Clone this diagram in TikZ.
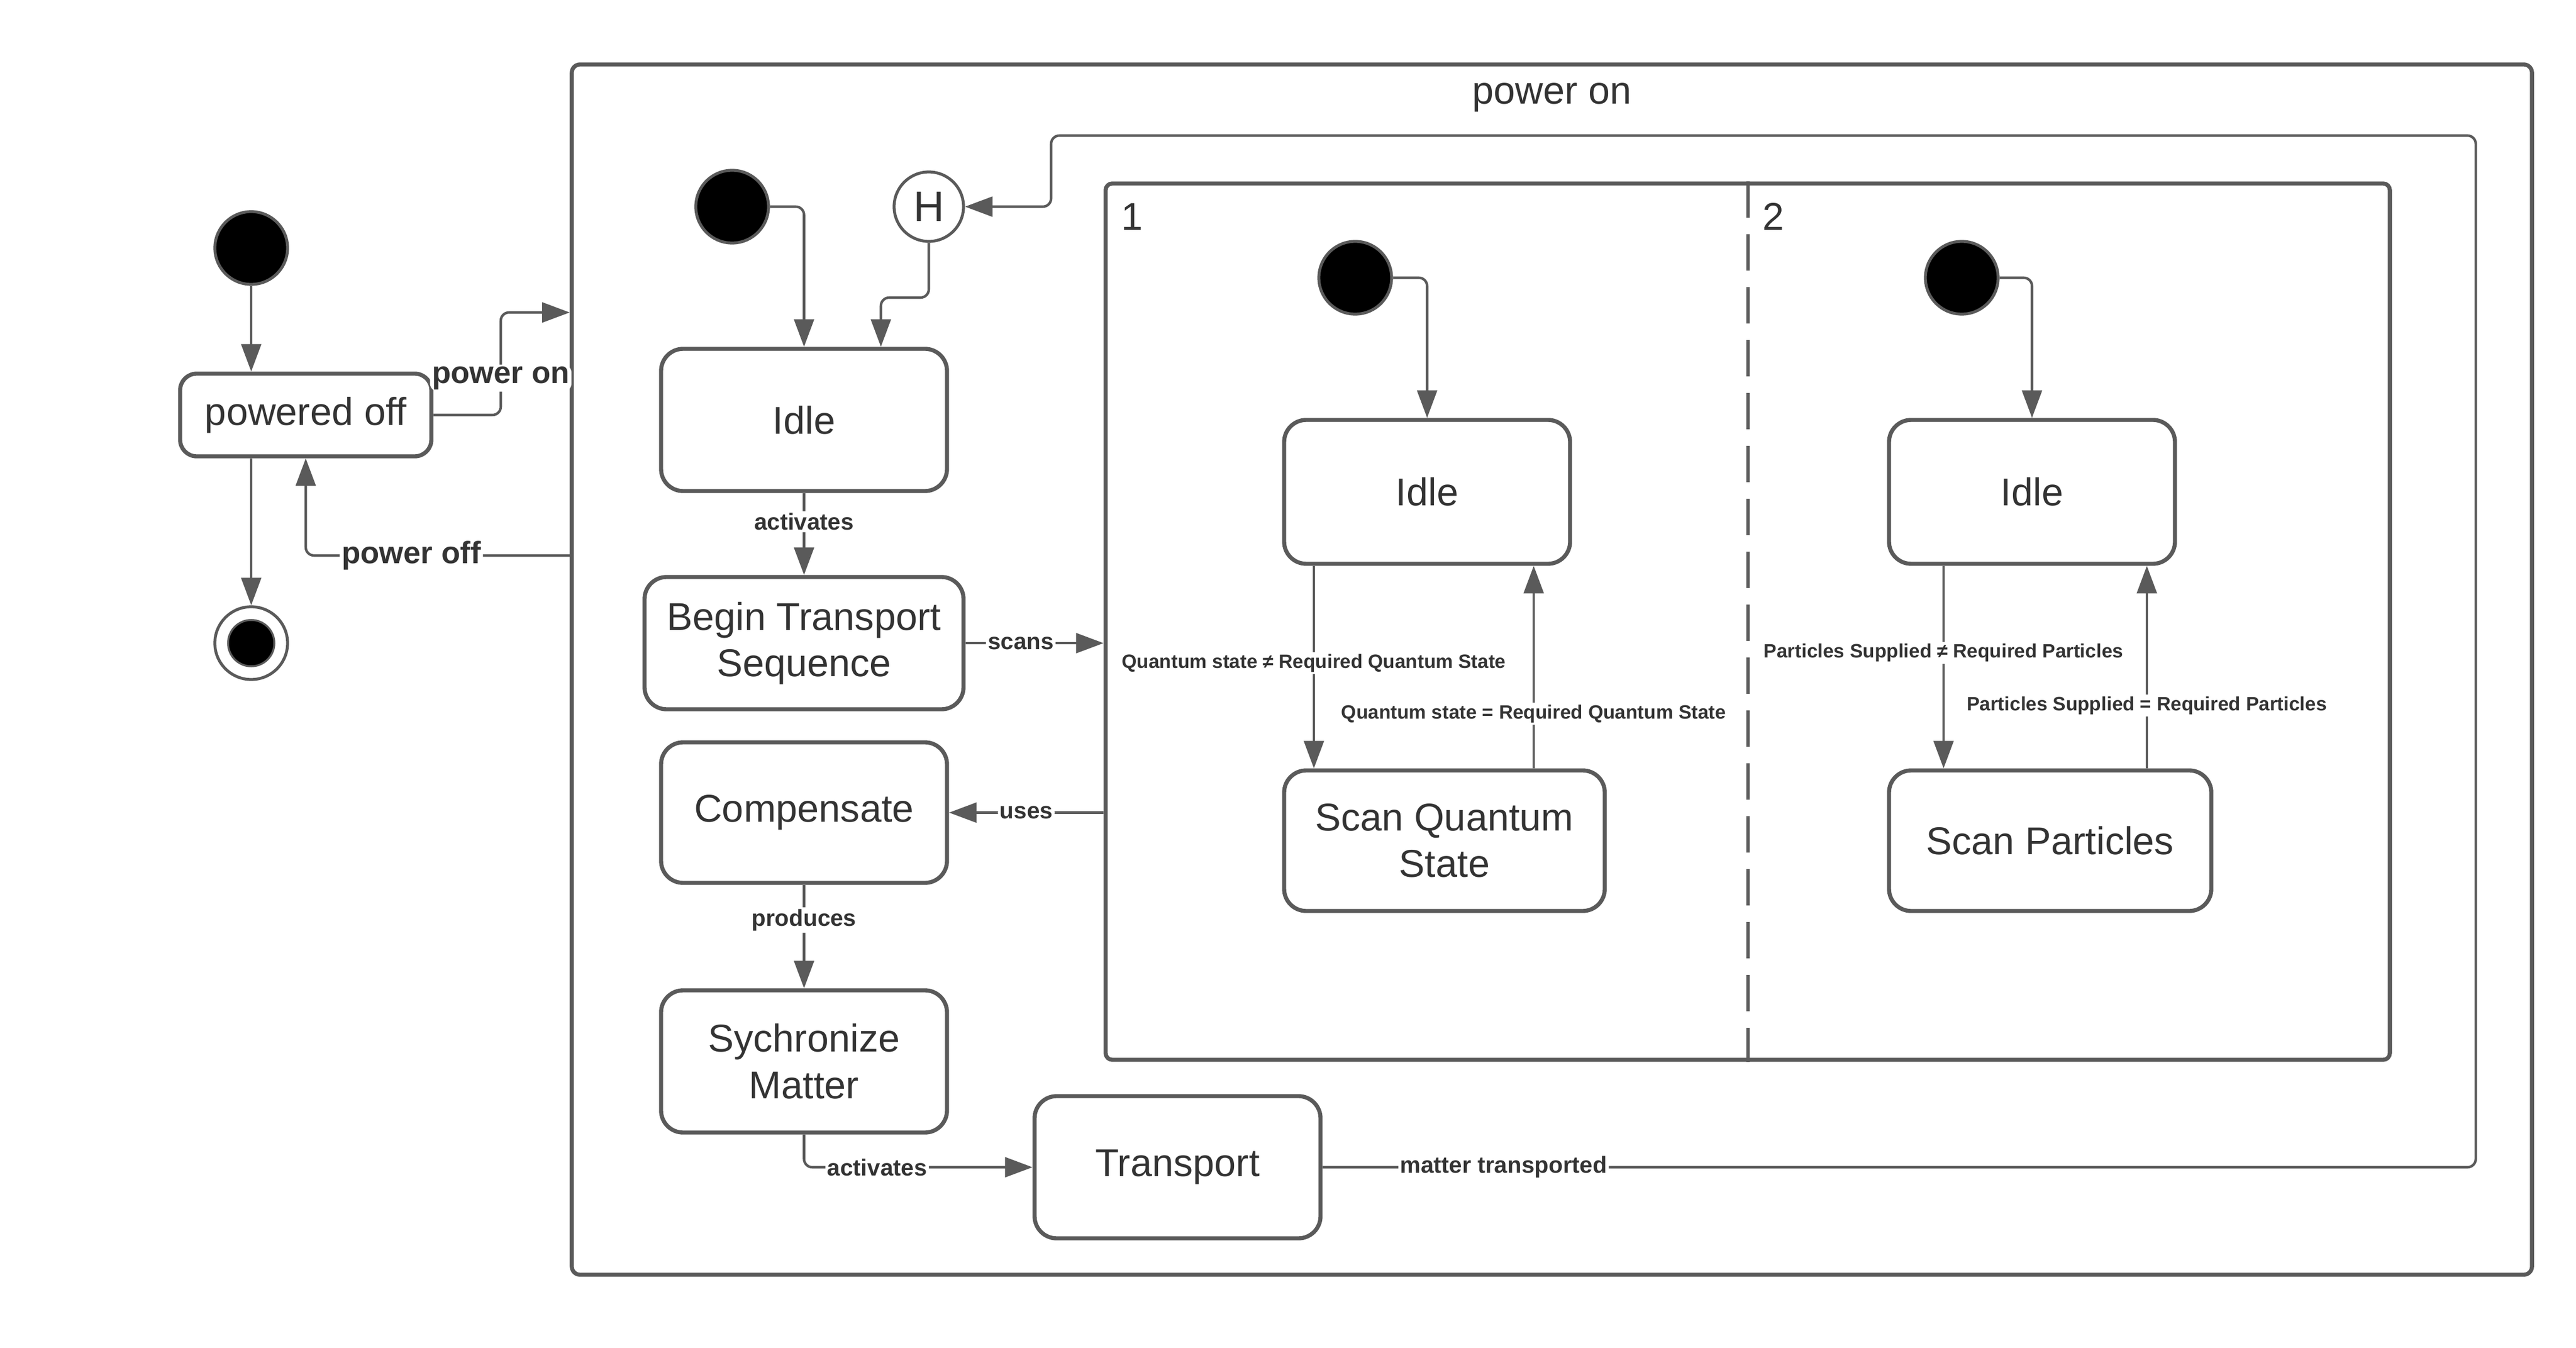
\documentclass[tikz,border=0pt]{standalone}
\usepackage{fontspec}
\setmainfont{Liberation Sans}
\usetikzlibrary{arrows.meta}
\definecolor{edgegray}{HTML}{5A5A5A}
\definecolor{ink}{HTML}{333333}
\begin{document}
\begin{tikzpicture}[x=0.03cm, y=-0.03cm,
	state/.style={draw=edgegray, line width=2.1pt, rounded corners=0.4cm, fill=white, text=ink, align=center, inner sep=0pt, font=\fontsize{20}{24}\selectfont},
	init/.style={circle, draw=edgegray, line width=1.5pt, fill=black, minimum size=1.32cm, inner sep=0pt},
	arr/.style={draw=edgegray, line width=1.3pt, rounded corners=0.15cm, -{Triangle[length=0.5cm, width=0.36cm]}},
	lbl/.style={fill=white, text=ink, inner sep=1pt, font=\bfseries\fontsize{12}{14}\selectfont},
	sidelbl/.style={lbl, font=\bfseries\fontsize{16}{18}\selectfont},
	cond/.style={lbl, font=\bfseries\fontsize{10}{12}\selectfont},
	frame/.style={draw=edgegray, line width=2.1pt, inner sep=0pt}]

		\useasboundingbox (0,0) rectangle (1558.67,815.33);

		\node[frame, rounded corners=0.15cm, minimum width=35.58cm, minimum height=21.96cm] (outer) at (939,405) {};
		\node[text=ink, font=\fontsize{20}{24}\selectfont] (title) at (939,59) {power on};
		\node[frame, rounded corners=0.12cm, minimum width=23.31cm, minimum height=15.9cm] (region) at (1057.5,376) {};
		\draw[edgegray, line width=1.7pt, dash pattern=on 0.66cm off 0.3cm] (region.north) -- (region.south);
		\node[text=ink, font=\fontsize{20}{24}\selectfont] (one) at (685,131) {1};
		\node[text=ink, font=\fontsize{20}{24}\selectfont] (two) at (1073,131) {2};

		\node[init] (start) at (152,150) {};
		\node[state, rounded corners=0.3cm, minimum width=4.56cm, minimum height=1.5cm] (off) at (185,251) {powered off};
		\node[circle, draw=edgegray, line width=1.5pt, fill=white, minimum size=1.32cm, inner sep=0pt] (final) at (152,389) {};
		\node[circle, draw=edgegray, line width=1pt, fill=black, minimum size=0.84cm, inner sep=0pt] (finaldot) at (final) {};

		\foreach \n/\x/\y in {start0/443/125, startA/820/168, startB/1187/168}
		\node[init] (\n) at (\x,\y) {};

		\node[circle, draw=edgegray, line width=1.5pt, fill=white, minimum size=1.26cm, inner sep=0pt, text=ink, font=\fontsize{22}{24}\selectfont] (hist) at (562,125) {H};

		\node[state, minimum width=5.19cm, minimum height=2.58cm] (idle) at (486.5,254) {Idle};
		\node[state, minimum width=5.79cm, minimum height=2.4cm] (begin) at (486.5,389) {Begin Transport\\Sequence};
		\node[state, minimum width=5.19cm, minimum height=2.55cm] (comp) at (486.5,491.5) {Compensate};
		\node[state, minimum width=5.19cm, minimum height=2.58cm] (sync) at (486.5,642) {Sychronize\\Matter};
		\node[state, minimum width=5.19cm, minimum height=2.58cm] (trans) at (712.5,706) {Transport};
		\node[state, minimum width=5.19cm, minimum height=2.61cm] (idleA) at (863.5,297.5) {Idle};
		\node[state, minimum width=5.82cm, minimum height=2.55cm] (scanA) at (874,508.5) {Scan Quantum\\State};
		\node[state, minimum width=5.19cm, minimum height=2.61cm] (idleB) at (1229.5,297.5) {Idle};
		\node[state, minimum width=5.85cm, minimum height=2.55cm] (scanB) at (1240.5,508.5) {Scan Particles};

		\draw[arr] (start) -- (off.north -| start);
		\draw[arr] (off.south -| final) -- (final);
		\draw[arr] (off.east) -- (303,251) |- node[sidelbl, pos=0.18] {power on} ([yshift=6.48cm]outer.west);
		\draw[arr] ([yshift=2.07cm]outer.west) -| node[sidelbl, pos=0.3] {power off} (off.south);

		\draw[arr] (start0.east) -| (idle.north);
		\draw[arr] (hist.south) -- (562,180) -| ([xshift=1.395cm]idle.north);
		\draw[arr] (trans.east) -- node[lbl, pos=0.157] {matter transported} (1498,706) |- (636,82) |- (hist.east);
		\draw[arr] (idle) -- node[lbl, pos=0.35] {activates} (begin);
		\draw[arr] (begin.east) -- node[lbl, pos=0.4] {scans} (begin.east -| region.west);
		\draw[arr] (comp.east -| region.west) -- node[lbl] {uses} (comp.east);
		\draw[arr] (comp) -- node[lbl, pos=0.34] {produces} (sync);
		\draw[arr] (sync.south) |- node[lbl, pos=0.66] {activates} (trans.west);

		\coordinate (qa) at ([xshift=-2.055cm]idleA.south);
		\coordinate (qb) at ([xshift=1.935cm]idleA.south);
		\draw[arr] (startA.east) -| (idleA.north);
		\draw[arr] (qa) -- node[cond, pos=0.48] {Quantum state ≠ Required Quantum State} (qa |- scanA.north);
		\draw[arr] (qb |- scanA.north) -- node[cond, pos=0.27] {Quantum state = Required Quantum State} (qb);

		\coordinate (pa) at ([xshift=-1.605cm]idleB.south);
		\coordinate (pb) at ([xshift=2.085cm]idleB.south);
		\draw[arr] (startB.east) -| (idleB.north);
		\draw[arr] (pa) -- node[cond, pos=0.43] {Particles Supplied ≠ Required Particles} (pa |- scanB.north);
		\draw[arr] (pb |- scanB.north) -- node[cond, pos=0.31] {Particles Supplied = Required Particles} (pb);
	\end{tikzpicture}
\end{document}
